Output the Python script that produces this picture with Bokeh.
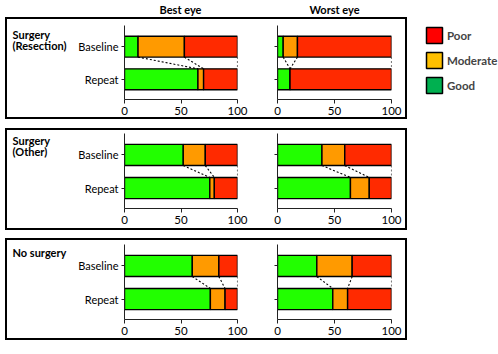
from bokeh.plotting import figure
from bokeh.models import (ColumnDataSource, Range1d, FixedTicker, Legend, LegendItem, Spacer)
from bokeh.core.properties import value
from bokeh.layouts import row, column
from bokeh.embed import file_html
from bokeh.resources import INLINE

# ---------------- data ----------------
GROUP_LABELS = [["Surgery", "(Resection)"], ["Surgery", "(Other)"], ["No surgery"]]
EYE_TITLES = ["Best eye", "Worst eye"]
STATES = ["Repeat", "Baseline"]          # bottom to top
CATEGORIES = ["Good", "Moderate", "Poor"]
X_TICKS = [0, 50, 100]

GOOD_BEST_BASELINE = [12, 52, 60]
MOD_BEST_BASELINE = [41, 19.5, 23.5]
POOR_BEST_BASELINE = [47, 28.5, 16.5]
GOOD_BEST_REPEAT = [65, 75.5, 76]
MOD_BEST_REPEAT = [5, 4, 13]
POOR_BEST_REPEAT = [30, 20.5, 11]

GOOD_WORST_BASELINE = [5, 39, 34.5]
MOD_WORST_BASELINE = [12.5, 20, 31]
POOR_WORST_BASELINE = [82.5, 41, 34.5]
GOOD_WORST_REPEAT = [11, 64, 48.5]
MOD_WORST_REPEAT = [0, 16.5, 13]
POOR_WORST_REPEAT = [89, 19.5, 38.5]

LEGEND_LABELS = ["Poor", "Moderate", "Good"]

# ---------------- styles / geometry ----------------
FONT = "Lato"
BAR_COLORS = {"Good": "#22ff00", "Moderate": "#ff9a00", "Poor": "#ff2a00"}
LEGEND_COLORS = ["#ff0000", "#ffc000", "#00b050"]
BAR_H = 0.64
Y_START, Y_END = -0.62, 1.65

DATA = {
    0: {"Baseline": (GOOD_BEST_BASELINE, MOD_BEST_BASELINE, POOR_BEST_BASELINE),
        "Repeat": (GOOD_BEST_REPEAT, MOD_BEST_REPEAT, POOR_BEST_REPEAT)},
    1: {"Baseline": (GOOD_WORST_BASELINE, MOD_WORST_BASELINE, POOR_WORST_BASELINE),
        "Repeat": (GOOD_WORST_REPEAT, MOD_WORST_REPEAT, POOR_WORST_REPEAT)},
}

CONTENT_H = 98
ROW_BORDERS = [(6, 17), (3, 20), (4, 19)]      # (top, bottom) around a 75px frame
COLS = [(175, 48, 13), (155, 27, 14)]           # (width, left border, right border)
LABEL_W = 68
BOX_LINE = 2
BOX_X0 = 5
GAPS = [9, 8]


def cum(vals):
    out, s = [], 0
    for v in vals:
        s += v
        out.append(s)
    return out


def blank(w, h, **kw):
    p = figure(width=w, height=h, output_backend="svg", toolbar_location=None,
               title=None, x_axis_location=None, y_axis_location=None,
               min_border_left=0, min_border_right=0, min_border_top=0,
               min_border_bottom=0, **kw)
    p.outline_line_color = None
    p.grid.visible = False
    p.background_fill_color = "white"
    p.border_fill_color = "white"
    return p


def rule(w, h):
    return Spacer(width=w, height=h, styles={"background-color": "black"})


def panel(eye, g):
    top, bottom = ROW_BORDERS[g]
    w, lb, rb = COLS[eye]
    p = figure(width=w, height=CONTENT_H, x_range=Range1d(0, 100),
               y_range=Range1d(Y_START, Y_END), title=None,
               output_backend="svg", toolbar_location=None,
               min_border_left=lb, min_border_right=rb, min_border_top=top,
               min_border_bottom=bottom)
    p.outline_line_color = None
    p.grid.visible = False

    ys, lefts, rights, colors = [], [], [], []
    bounds = {}
    for si, st in enumerate(STATES):
        vals = [DATA[eye][st][k][g] for k in range(3)]
        c = cum(vals)
        bounds[st] = c
        l = [0] + c[:-1]
        for k in range(3):
            ys.append(si)
            lefts.append(l[k])
            rights.append(c[k])
            colors.append(BAR_COLORS[CATEGORIES[k]])
    src = ColumnDataSource(dict(y=ys, left=lefts, right=rights, color=colors))
    p.hbar(y="y", left="left", right="right", height=BAR_H, fill_color="color",
           line_color="black", line_width=1.4, source=src)

    seg = ColumnDataSource(dict(x0=bounds["Baseline"], x1=bounds["Repeat"],
                                y0=[STATES.index("Baseline") - BAR_H / 2] * 3,
                                y1=[STATES.index("Repeat") + BAR_H / 2] * 3))
    p.segment(x0="x0", y0="y0", x1="x1", y1="y1", source=seg, line_color="black",
              line_width=1.1, line_dash="2 2")

    for ax in (p.xaxis, p.yaxis):
        ax.axis_line_color = "#222222"
        ax.major_tick_line_color = "#222222"
        ax.minor_tick_line_color = None
        ax.major_tick_in = 0
        ax.major_tick_out = 4
        ax.major_label_text_font = FONT
        ax.major_label_text_font_size = "11.5px"
        ax.major_label_text_color = "black"
    p.xaxis.ticker = FixedTicker(ticks=X_TICKS)
    p.xaxis.major_label_standoff = 3
    p.yaxis.ticker = FixedTicker(ticks=list(range(len(STATES))))
    p.yaxis.major_tick_out = 3
    p.yaxis.major_label_standoff = 3
    p.yaxis.major_label_text_font_size = "11px"
    if eye == 0:
        p.yaxis.major_label_overrides = {i: s for i, s in enumerate(STATES)}
    else:
        p.yaxis.major_label_overrides = {i: "" for i in range(len(STATES))}
    return p


def label_fig(g):
    top, _ = ROW_BORDERS[g]
    p = blank(LABEL_W, CONTENT_H, x_range=Range1d(0, LABEL_W),
              y_range=Range1d(CONTENT_H, 0))
    lines = GROUP_LABELS[g]
    p.text(x=[5] * len(lines), y=[top + 6.5 + 13.5 * i for i in range(len(lines))],
           text=lines, text_align="left", text_baseline="alphabetic",
           text_font=value(FONT), text_font_style="bold", text_font_size="11px",
           text_color="black")
    return p


def box(g):
    inner_w = LABEL_W + COLS[0][0] + COLS[1][0]
    outer_w = inner_w + 2 * BOX_LINE
    mid = row(rule(BOX_LINE, CONTENT_H), label_fig(g), panel(0, g), panel(1, g),
              rule(BOX_LINE, CONTENT_H))
    return row(Spacer(width=BOX_X0, height=CONTENT_H + 2 * BOX_LINE),
               column(rule(outer_w, BOX_LINE), mid, rule(outer_w, BOX_LINE)))


def title_fig(eye):
    w = [BOX_X0 + BOX_LINE + LABEL_W + COLS[0][0], COLS[1][0] + BOX_LINE + 3][eye]
    lb = [BOX_X0 + BOX_LINE + LABEL_W + COLS[0][1], COLS[1][1]][eye]
    rb = w - lb - 114
    p = figure(width=w, height=17, x_range=Range1d(0, 100), y_range=Range1d(0, 1),
               output_backend="svg", toolbar_location=None, title=None,
               x_axis_location=None, y_axis_location=None,
               min_border_left=lb, min_border_right=rb, min_border_top=0,
               min_border_bottom=0)
    p.outline_line_color = None
    p.grid.visible = False
    p.text(x=[50], y=[0.5], text=[EYE_TITLES[eye]], text_align="center",
           text_baseline="middle", text_font=value(FONT), text_font_style="bold",
           text_font_size="11px", text_color="black")
    return p


left_block = column(
    row(title_fig(0), title_fig(1)),
    box(0), Spacer(height=GAPS[0]),
    box(1), Spacer(height=GAPS[1]),
    box(2), Spacer(height=14),
)

lg = blank(88, 123, x_range=Range1d(0, 1), y_range=Range1d(0, 1))
lg.min_border_top = 11
items = []
for name, col in zip(LEGEND_LABELS, LEGEND_COLORS):
    r = lg.hbar(y=[-10], left=[0], right=[0], height=1, fill_color=col,
                line_color="black", line_width=1.5)
    items.append(LegendItem(label=name, renderers=[r]))
leg = Legend(items=items, location="top_left", glyph_width=20, glyph_height=20,
             label_height=20, spacing=5, padding=0, margin=14, border_line_color=None,
             background_fill_alpha=0, label_standoff=3, label_text_font=FONT,
             label_text_font_style="bold", label_text_font_size="11.5px")
lg.add_layout(leg)

layout = row(left_block, column(lg, Spacer(width=88, height=231)))

open("out.html", "w").write(file_html(layout, INLINE))
